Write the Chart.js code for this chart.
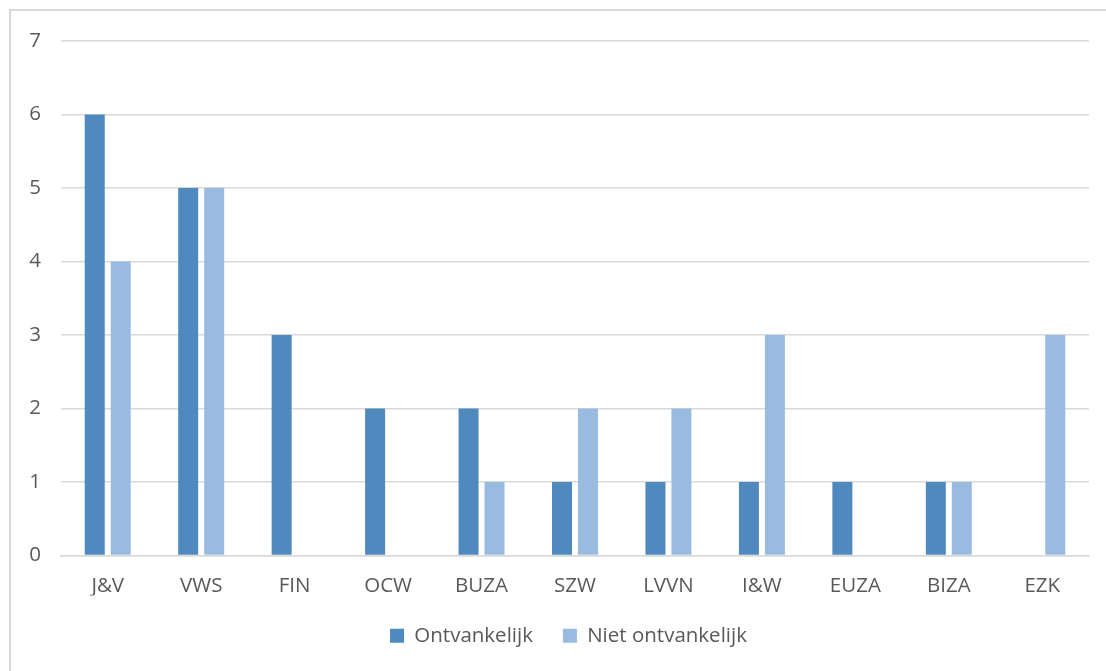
<!DOCTYPE html>
<html>
<head>
<meta charset="utf-8">
<script src="https://cdn.jsdelivr.net/npm/chart.js@4/dist/chart.umd.min.js"></script>
<style>
  html, body { margin: 0; padding: 0; background: #fff; }
  #wrap { position: relative; width: 1106px; height: 671px; overflow: hidden; }
  #frame { position: absolute; left: 9px; top: 9px; width: 1110px; height: 700px;
           border: 2px solid #d9d9d9; box-sizing: border-box; }
  #c { position: absolute; left: 0; top: 0; }
</style>
</head>
<body>
<div id="wrap">
  <div id="frame"></div>
  <canvas id="c" width="1106" height="671"></canvas>
</div>
<script>
// ministeries
const ministeries = ["J&V", "VWS", "FIN", "OCW", "BUZA", "SZW", "LVVN", "I&W", "EUZA", "BIZA", "EZK"];
// aantallen per ministerie
const ontvankelijk     = [6, 5, 3, 2, 2, 1, 1, 1, 1, 1, 0];
const nietOntvankelijk = [4, 5, 0, 0, 1, 2, 2, 3, 0, 1, 3];
const yTicks = [0, 1, 2, 3, 4, 5, 6, 7];

const tekst = "#595959";
const lijn = "#d9d9d9";
const font = { family: "'Open Sans', sans-serif", size: 20.5 };

Chart.defaults.font = font;
Chart.defaults.color = tekst;

// legenda iets naar rechts schuiven
const legendaVerschuiving = {
  id: "legendaVerschuiving",
  afterLayout(chart) {
    chart.legend.left += 24;
    chart.legend.right += 24;
  }
};

new Chart(document.getElementById("c"), {
  type: "bar",
  data: {
    labels: ministeries,
    datasets: [
      { label: "Ontvankelijk", data: ontvankelijk, backgroundColor: "#4f89bd",
        barPercentage: 0.77, categoryPercentage: 0.556 },
      { label: "Niet ontvankelijk", data: nietOntvankelijk, backgroundColor: "#9abbe0",
        barPercentage: 0.77, categoryPercentage: 0.556 }
    ]
  },
  plugins: [legendaVerschuiving],
  options: {
    responsive: false,
    animation: false,
    layout: { padding: { top: 41, right: 17, left: 0, bottom: 15 } },
    plugins: {
      tooltip: { enabled: false },
      legend: {
        position: "bottom",
        labels: { boxWidth: 14, boxHeight: 14, padding: 30, color: tekst, font: font }
      }
    },
    scales: {
      x: {
        grid: { display: false, drawTicks: false },
        border: { color: lijn, width: 1.5 },
        ticks: { padding: 18, color: tekst, font: font },
        afterFit: s => { s.height = 40; }
      },
      y: {
        min: 0, max: 7,
        afterBuildTicks: s => { s.ticks = yTicks.map(v => ({ value: v })); },
        grid: { color: lijn, lineWidth: 1.5, drawTicks: false },
        border: { display: false },
        ticks: { padding: 20, color: tekst, font: font },
        afterFit: s => { s.width = 61; }
      }
    }
  }
});
</script>
</body>
</html>
